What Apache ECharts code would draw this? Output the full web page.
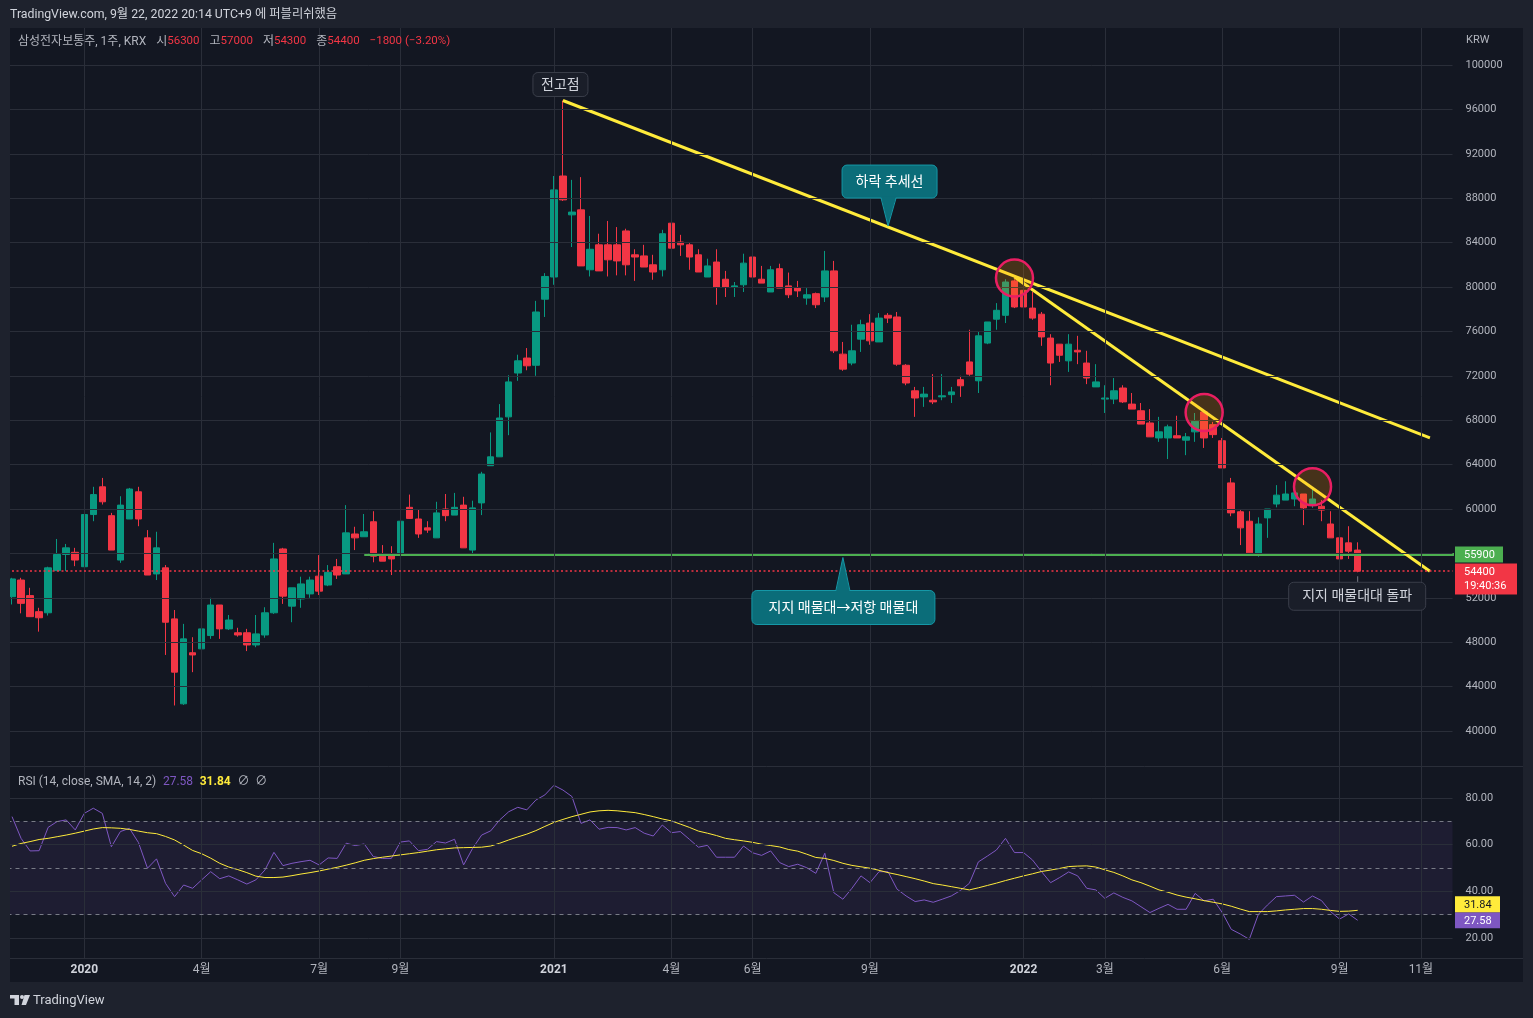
<!DOCTYPE html>
<html><head><meta charset="utf-8">
<script src="https://cdn.jsdelivr.net/npm/echarts/dist/echarts.min.js"></script>
<style>html,body{margin:0;padding:0;background:#131722;}#c{width:1533px;height:1018px;}</style>
</head><body><div id="c"></div><script>
const FONT = "Roboto, 'Noto Sans CJK KR', 'Noto Sans', sans-serif";

// ---------- data ----------
const startWeek = [2019, 10, 11];   // first weekly bar (Mon 2019-11-11)
const barCount = 160;               // bars incl. empty future space
const tickIdx    = [8, 21, 34, 43, 60, 73, 82, 95, 112, 121, 134, 147, 156];
const tickLabels = ['2020','4월','7월','9월','2021','4월','6월','9월','2022','3월','6월','9월','11월'];
const yearLabels = ['2020','2021','2022'];
const priceTicks = [40000,44000,48000,52000,56000,60000,64000,68000,72000,76000,80000,84000,88000,92000,96000,100000];
const rsiGridTicks = [20, 40, 60, 80];
const rsiDashTicks = [30, 50, 70];

const opens = [52100,53600,52200,50750,50650,54450,55900,56100,54800,59500,
62000,59400,55400,59100,61550,57400,54150,54700,50100,42450,
47050,47400,48600,51350,49200,48850,48850,47750,48650,50650,
56400,51250,51900,52350,53950,53150,54800,54150,57750,57500,
58850,55750,55950,55950,60150,59100,58300,57400,60000,59450,
60350,56300,60550,63900,64700,68300,72250,73600,72950,78900,
80900,90000,86500,86950,81550,83800,83800,83800,85050,82900,
82800,82000,81550,85750,84050,83800,82900,80900,82250,80700,
80000,80200,82700,80700,79550,81650,80100,79900,79000,79400,
79100,81450,73950,73150,75300,76750,75050,77450,77300,72950,
70650,70100,69800,70100,70300,71650,73250,71550,74950,77100,
77450,80550,79700,78100,77550,75400,74850,73350,74300,73150,
71000,69900,69900,70900,69450,68850,67750,66400,66400,66600,
66200,66950,68750,67600,66150,62350,59750,58900,55950,59200,
60450,60800,60900,61350,60350,60250,58650,57400,56950,56300];
const highs = [53800,53800,52900,51100,54800,57300,56850,56500,59650,62000,
62800,59650,61150,61900,62000,58100,57950,54950,50900,49650,
48450,50200,52000,51350,50450,49300,49200,50450,51150,56950,
56500,52900,53900,53900,55850,54950,55500,60350,58400,59550,
59800,56750,56650,60000,61300,60000,58900,60650,61350,61450,
61100,60750,63350,66900,69450,72050,73900,74500,78750,81250,
90000,96800,89650,89900,86400,84800,85950,85400,85250,83400,
83800,82900,85150,86100,84700,83950,83400,82550,83400,81450,
80450,83000,82800,81900,81900,82100,81300,80550,79900,79500,
83250,82350,75050,76600,77050,77550,77650,77650,77750,73050,
71000,71000,72150,72150,71000,72000,76150,75950,76850,78550,
80700,80700,79800,79550,77750,75750,74850,75750,75600,74250,
73050,71150,71800,71150,70450,69550,69000,68300,67600,68400,
66850,68650,68750,67850,66400,62800,59900,59800,59250,60000,
62150,62500,61900,61350,61900,60800,59800,57750,58450,57000];
const lows = [51400,50600,50300,48950,50400,54400,54400,54850,54600,58900,
60400,56300,55150,59100,58450,54050,53600,46850,42300,42350,
45300,47200,48300,48300,49100,48500,47200,47550,48400,50550,
51450,49800,51100,52000,52250,53050,53700,54150,56300,57500,
55200,55300,54050,55750,59100,57400,57850,57400,58900,59450,
56500,55950,59450,63900,64700,66650,71550,72500,72000,77300,
80200,87750,83600,81900,80950,81450,80950,81050,81050,80550,
81800,80650,80950,83350,82800,81550,81350,80900,78400,79100,
79100,79550,80650,80350,79550,79900,79000,79100,78400,78100,
78650,74050,72450,72950,74150,74800,75050,76750,72900,71150,
68300,69200,69450,69800,69550,70100,72000,70450,74850,76150,
76750,78100,76400,77050,74700,71150,73250,72350,73050,71250,
71000,68650,69450,69550,69000,67650,66500,66050,64500,66400,
64850,66050,65500,66400,63700,59350,56750,55850,55700,57400,
60150,60800,60250,58550,60100,58900,57400,55500,55500,54300];
const closes = [53700,51500,50300,50200,54700,55900,56500,55400,59500,61300,
60650,56300,60350,61800,59100,54050,56500,49800,45300,48300,
46850,49200,51350,49200,50000,48650,47750,48750,50650,55500,
52150,52900,53250,53600,52600,54300,54050,57850,57400,57950,
55750,55300,55500,58900,59150,57750,58100,59650,59400,60150,
56500,60100,63150,64700,68200,71450,73350,72900,77750,80950,
88750,87850,86750,81900,83400,81450,82450,82350,82000,82700,
81800,81350,84800,83500,83800,82700,81350,81900,80000,80000,
80100,82150,80900,80350,81550,79900,79300,79650,79300,78400,
81450,74250,72600,74250,76600,75150,77200,77200,73050,71350,
70000,70350,69650,70200,70550,71100,72150,75600,76850,77900,
80450,78200,78200,77200,75500,73150,73850,74850,74150,71800,
71450,70000,70650,69650,69000,67650,66500,66950,67400,66400,
66500,67900,66400,66700,63700,59650,58300,56050,58650,60000,
61250,61350,61450,60100,60900,59900,57400,55500,56200,54400];
const rsi = [72.0,62.7,57.3,57.4,67.4,69.9,70.6,66.3,73.4,75.6,
73.4,59.1,65.6,67.0,60.9,49.9,53.9,43.4,37.7,42.7,
41.3,44.9,48.4,45.4,46.6,44.9,43.1,44.9,49.1,56.7,
51.0,52.0,52.7,53.3,51.3,54.3,54.1,60.6,59.6,60.3,
54.9,54.1,54.1,61.1,61.6,57.4,58.0,61.3,60.7,62.3,
51.3,58.4,64.1,65.9,70.6,74.1,76.0,74.9,79.1,81.3,
85.4,83.4,80.6,69.1,70.6,66.6,67.4,67.3,66.3,67.3,
64.9,63.7,68.4,65.1,65.6,62.3,58.9,59.7,54.6,54.6,
54.6,59.4,56.5,55.4,57.3,52.3,50.6,51.6,50.1,47.7,
56.3,39.4,36.6,41.3,46.6,43.7,48.4,48.4,40.9,38.0,
35.6,36.3,35.3,36.6,38.0,40.3,43.4,52.6,55.1,57.7,
62.7,56.6,56.6,53.4,48.4,43.7,45.9,48.3,46.6,41.3,
40.6,37.0,39.3,37.4,35.9,33.4,30.9,32.7,34.4,32.3,
32.3,39.1,35.9,36.6,30.9,23.7,21.7,19.4,30.1,34.1,
37.7,38.0,38.3,35.4,38.0,36.0,31.3,28.1,30.3,27.58];
const rsiMA = [59.3,60.5,61.3,62.2,62.7,63.4,64.1,64.9,65.8,66.7,
67.3,67.2,67.0,66.5,65.8,65.1,64.7,63.5,62.0,59.8,
57.5,56.1,54.2,52.0,50.4,49.3,48.0,46.5,45.9,45.9,
46.1,46.7,47.4,48.0,48.7,49.5,50.3,51.2,52.2,53.3,
54.0,54.6,55.1,55.6,56.1,56.6,57.2,57.8,58.2,58.6,
58.7,58.8,58.9,59.4,60.6,62.0,63.3,64.5,66.0,67.8,
69.5,70.8,72.0,73.0,74.0,74.5,74.7,74.5,74.1,73.7,
72.9,72.0,71.0,70.2,68.8,67.4,65.8,64.9,63.9,62.7,
62.1,61.6,61.0,60.2,59.6,59.0,57.9,57.2,55.9,54.5,
54.1,53.2,52.0,51.1,50.5,49.9,49.0,48.0,47.2,46.3,
45.4,44.4,43.3,42.7,42.0,41.3,40.6,41.5,42.5,43.5,
44.6,45.6,46.6,47.5,48.5,49.1,49.8,50.6,50.8,50.9,
50.4,49.2,48.1,46.6,44.9,43.7,42.2,40.6,39.6,38.4,
37.5,36.8,36.0,35.3,34.6,33.6,32.4,31.3,31.3,31.3,
31.6,32.0,32.3,32.6,32.6,32.3,31.8,31.4,31.5,31.84];

// drawings (bar index, price)
const trendLine1 = [[61, 96800], [157, 66400]];
const trendLine2 = [[111, 80900], [157, 54400]];
const circles = [[111, 80800], [132, 68700], [144, 62000]];
const supportLevel = 55900;
const supportStart = 39;
const lastPrice = 54400;
const countdown = '19:40:36';
const peakPoint = [61, 96800];
const trendCalloutTip = [97, 85400];
const supportCalloutTip = [92, 55900];
const breakPoint = [149, 54300];

// ---------- build ----------
const categories = [];
const d0 = Date.UTC(startWeek[0], startWeek[1], startWeek[2]);
for (let i = 0; i < barCount; i++) categories.push(new Date(d0 + i * 7 * 86400000).toISOString().slice(0, 10));
const candles = opens.map((o, i) => [o, closes[i], lows[i], highs[i]]);

const GRIDC = '#2a2e39';
const BG = '#131722', FRAME = '#1e222d';
const TXT = '#b2b5be';
const UP = '#089981', DOWN = '#f23645';
const PANE_TOP = 103400, PANE_BOT = 36850;   // price pane extent
const RSI_TOP = 93.7, RSI_BOT = 11.4;        // rsi pane extent

const chart = echarts.init(document.getElementById('c'), null, {renderer: 'canvas', width: 1533, height: 1018});

const option = {
  backgroundColor: BG,
  animation: false,
  grid: [
    {left: 7.5, width: 1445, top: 20.6, height: 754.8, containLabel: false, outerBoundsMode: 'none'},
    {left: 7.5, width: 1445, top: 751.3, height: 210, containLabel: false, outerBoundsMode: 'none'}
  ],
  xAxis: [
    {type: 'category', gridIndex: 0, data: categories, boundaryGap: true, show: false},
    {type: 'category', gridIndex: 1, data: categories, boundaryGap: true,
      axisLine: {show: false}, axisTick: {show: false}, splitLine: {show: false},
      axisLabel: {
        interval: (i) => tickIdx.indexOf(i) >= 0,
        margin: 3,
        formatter: (v, i) => {
          const k = tickIdx.indexOf(i);
          if (k < 0) return '';
          const t = tickLabels[k];
          return yearLabels.indexOf(t) >= 0 ? '{y|' + t + '}' : '{m|' + t + '}';
        },
        rich: {
          y: {color: '#d1d4dc', fontWeight: 'bold', fontSize: 12, fontFamily: FONT},
          m: {color: TXT, fontSize: 12, fontFamily: FONT}
        }
      }}
  ],
  yAxis: [
    {type: 'value', gridIndex: 0, position: 'right', min: 36000, max: 104000, interval: 4000,
      splitLine: {show: false}, axisLine: {show: false}, axisTick: {show: false},
      axisLabel: {margin: 13, color: TXT, fontSize: 11, fontFamily: FONT,
        formatter: v => priceTicks.indexOf(Math.round(v)) >= 0 ? String(Math.round(v)) : ''}},
    {type: 'value', gridIndex: 1, position: 'right', min: 10, max: 100, interval: 10,
      splitLine: {show: false}, axisLine: {show: false}, axisTick: {show: false},
      axisLabel: {margin: 13, color: TXT, fontSize: 11, fontFamily: FONT,
        formatter: v => rsiGridTicks.indexOf(Math.round(v)) >= 0 ? Math.round(v).toFixed(2) : ''}}
  ],
  series: [
    // price pane grid
    {type: 'line', xAxisIndex: 0, yAxisIndex: 0, data: [], z: 1, silent: true,
      markLine: {silent: true, symbol: ['none', 'none'], animation: false, label: {show: false},
        lineStyle: {color: GRIDC, width: 1, type: 'solid'},
        data: [
          ...priceTicks.map(v => ({yAxis: v})),
          ...tickIdx.map(i => [{coord: [i, PANE_TOP]}, {coord: [i, PANE_BOT]}])
        ]}},
    // rsi pane grid
    {type: 'line', xAxisIndex: 1, yAxisIndex: 1, data: [], z: 1, silent: true,
      markArea: {silent: true, itemStyle: {color: 'rgba(126,87,194,0.10)'}, data: [[{yAxis: 30}, {yAxis: 70}]]},
      markLine: {silent: true, symbol: ['none', 'none'], animation: false, label: {show: false},
        lineStyle: {color: GRIDC, width: 1, type: 'solid'},
        data: [
          ...rsiGridTicks.map(v => ({yAxis: v})),
          ...tickIdx.map(i => [{coord: [i, RSI_TOP]}, {coord: [i, RSI_BOT]}])
        ]}},
    {type: 'line', xAxisIndex: 1, yAxisIndex: 1, data: [], z: 1, silent: true,
      markLine: {silent: true, symbol: ['none', 'none'], animation: false, label: {show: false},
        lineStyle: {color: '#787b86', width: 1, type: [4, 4]},
        data: rsiDashTicks.map(v => ({yAxis: v}))}},
    // candles
    {type: 'candlestick', xAxisIndex: 0, yAxisIndex: 0, data: candles, barWidth: 7, z: 2,
      itemStyle: {color: UP, color0: DOWN, borderColor: UP, borderColor0: DOWN, borderWidth: 1}},
    // last price dotted line
    {type: 'line', xAxisIndex: 0, yAxisIndex: 0, data: [], z: 3, silent: true,
      markLine: {silent: true, symbol: ['none', 'none'], animation: false, label: {show: false},
        lineStyle: {color: DOWN, width: 1.6, type: [2, 2.5], opacity: 1},
        data: [{yAxis: lastPrice}]}},
    // support line
    {type: 'line', xAxisIndex: 0, yAxisIndex: 0, data: [[supportStart, supportLevel], [barCount, supportLevel]],
      symbol: 'none', z: 4, clip: true, lineStyle: {color: '#4caf50', width: 3}},
    // trend lines
    {type: 'line', xAxisIndex: 0, yAxisIndex: 0, data: trendLine1, symbol: 'none', z: 4,
      lineStyle: {color: '#ffeb3b', width: 3}},
    {type: 'line', xAxisIndex: 0, yAxisIndex: 0, data: trendLine2, symbol: 'none', z: 4,
      lineStyle: {color: '#ffeb3b', width: 3}},
    // circles
    {type: 'scatter', xAxisIndex: 0, yAxisIndex: 0, data: circles, symbol: 'circle', symbolSize: 37, z: 5,
      itemStyle: {color: 'rgba(255,152,0,0.22)', borderColor: '#e91e63', borderWidth: 2.5, opacity: 1}},
    // RSI
    {type: 'line', xAxisIndex: 1, yAxisIndex: 1, data: rsi, symbol: 'none', z: 3,
      lineStyle: {color: '#7e57c2', width: 1}},
    {type: 'line', xAxisIndex: 1, yAxisIndex: 1, data: rsiMA, symbol: 'none', z: 4,
      lineStyle: {color: '#ffeb3b', width: 1}}
  ]
};
chart.setOption(option);

// ---------- overlays positioned through the chart's own scales ----------
const P0 = p => chart.convertToPixel({gridIndex: 0}, p);
const P1 = p => chart.convertToPixel({gridIndex: 1}, p);
const f = (px, w) => (w || '') + ' ' + px + 'px ' + FONT;
const CALL_FILL = '#0b6d79', CALL_STROKE = '#1598a7';
function txt(text, x, y, fill, font, align, valign, z) {
  return {type: 'text', z: z || 70, style: {text, x, y, fill, font, align: align || 'left', verticalAlign: valign || 'middle',
    textAlign: align || 'left', textVerticalAlign: valign || 'middle'}};
}
function callout(x0, y0, x1, y1, bx0, bx1, tx, ty, down, text) {
  const by = down ? y1 : y0;
  const inner = down ? by - 1.5 : by + 1.5;
  return [
    {type: 'rect', z: 60, shape: {x: x0, y: y0, width: x1 - x0, height: y1 - y0, r: 5}, style: {fill: CALL_FILL, stroke: CALL_STROKE, lineWidth: 1}},
    {type: 'polygon', z: 61, shape: {points: [[bx0, inner], [tx, ty], [bx1, inner]]}, style: {fill: CALL_FILL}},
    {type: 'polyline', z: 61, shape: {points: [[bx0, by], [tx, ty], [bx1, by]]}, style: {stroke: CALL_STROKE, lineWidth: 1, fill: null}},
    txt(text, (x0 + x1) / 2, (y0 + y1) / 2 + 0.5, '#ffffff', f(14), 'center', 'middle', 62)
  ];
}
function noteBox(x0, y0, x1, y1, text) {
  return [
    {type: 'rect', z: 60, shape: {x: x0, y: y0, width: x1 - x0, height: y1 - y0, r: 5}, style: {fill: '#1a1e29', stroke: '#3a3e4a', lineWidth: 1}},
    txt(text, (x0 + x1) / 2, (y0 + y1) / 2 + 0.5, '#d1d4dc', f(14), 'center', 'middle', 62)
  ];
}

const G = [];
// frame
G.push({type: 'rect', z: 50, shape: {x: 0, y: 0, width: 1533, height: 28}, style: {fill: FRAME}});
G.push({type: 'rect', z: 50, shape: {x: 0, y: 0, width: 10, height: 1018}, style: {fill: FRAME}});
G.push({type: 'rect', z: 50, shape: {x: 1523, y: 0, width: 10, height: 1018}, style: {fill: FRAME}});
G.push({type: 'rect', z: 50, shape: {x: 0, y: 982, width: 1533, height: 36}, style: {fill: FRAME}});
G.push({type: 'line', z: 50, shape: {x1: 10, y1: 766.5, x2: 1523, y2: 766.5}, style: {stroke: '#2a2e39', lineWidth: 1}});
G.push({type: 'line', z: 50, shape: {x1: 10, y1: 958.5, x2: 1523, y2: 958.5}, style: {stroke: '#2a2e39', lineWidth: 1}});

// header
G.push(txt('TradingView.com, 9월 22, 2022 20:14 UTC+9 에 퍼블리쉬했음', 10, 14.5, '#d1d4dc', f(12.3), 'left', 'middle', 71));
const last = opens.length - 1;
const chg = closes[last] - closes[last - 1];
const pct = (chg / closes[last - 1] * 100).toFixed(2);
const neg = s => String(s).replace('-', '−');
G.push({type: 'text', z: 71, style: {
  x: 18, y: 41.5, align: 'left', verticalAlign: 'middle', textAlign: 'left', textVerticalAlign: 'middle',
  text: '{g|삼성전자보통주, 1주, KRX}   {g|시}{r|' + opens[last] + '}   {g|고}{r|' + highs[last] + '}   {g|저}{r|' + lows[last] +
        '}   {g|종}{r|' + closes[last] + '}   {r|' + neg(chg) + ' (' + neg(pct) + '%)}',
  rich: {g: {fill: TXT, font: f(12)}, r: {fill: DOWN, font: f(11.5)}}
}});
G.push(txt('KRW', 1466, 40.5, TXT, f(11), 'left', 'middle', 71));
// RSI legend
G.push({type: 'text', z: 71, style: {
  x: 18, y: 781.5, align: 'left', verticalAlign: 'middle', textAlign: 'left', textVerticalAlign: 'middle',
  text: '{g|RSI (14, close, SMA, 14, 2)}  {p|' + rsi[last].toFixed(2) + '}  {y|' + rsiMA[last].toFixed(2) + '}  {g|∅  ∅}',
  rich: {g: {fill: TXT, font: f(12)}, p: {fill: '#7e57c2', font: f(12)}, y: {fill: '#ffeb3b', font: f(12, 'bold')}}
}});
// bottom logo
G.push({type: 'rect', z: 71, shape: {x: 10, y: 995, width: 9, height: 3.5}, style: {fill: '#d1d4dc'}});
G.push({type: 'rect', z: 71, shape: {x: 14.5, y: 995, width: 4.5, height: 10}, style: {fill: '#d1d4dc'}});
G.push({type: 'circle', z: 71, shape: {cx: 22, cy: 997, r: 2}, style: {fill: '#d1d4dc'}});
G.push({type: 'polygon', z: 71, shape: {points: [[24.5, 995], [30, 995], [26, 1005], [21.5, 1005]]}, style: {fill: '#d1d4dc'}});
G.push(txt('TradingView', 33, 1000.5, '#d1d4dc', f(13), 'left', 'middle', 71));

// annotations
const pk = P0(peakPoint);
G.push(...noteBox(pk[0] - 30, pk[1] - 28, pk[0] + 25, pk[1] - 4, '전고점'));
const t1 = P0(trendCalloutTip);
G.push(...callout(t1[0] - 46, t1[1] - 62, t1[0] + 49, t1[1] - 29, t1[0] - 7, t1[0] + 8, t1[0], t1[1] - 1, true, '하락 추세선'));
const t2 = P0(supportCalloutTip);
G.push(...callout(t2[0] - 91, t2[1] + 36, t2[0] + 92, t2[1] + 70, t2[0] - 7, t2[0] + 7, t2[0], t2[1] + 3, false, '지지 매물대→저항 매물대'));
const bp = P0(breakPoint);
G.push({type: 'line', z: 60, shape: {x1: bp[0], y1: bp[1] + 4, x2: bp[0], y2: bp[1] + 10}, style: {stroke: '#787b86', lineWidth: 1}});
G.push(...noteBox(bp[0] - 69, bp[1] + 10, bp[0] + 68, bp[1] + 38, '지지 매물대대 돌파'));

// price scale badges
const gy = P0([0, supportLevel])[1];
G.push({type: 'rect', z: 80, shape: {x: 1455, y: gy - 8, width: 48, height: 16}, style: {fill: '#4caf50'}});
G.push(txt(String(supportLevel), 1464, gy + 0.5, '#ffffff', f(11), 'left', 'middle', 81));
const ry = P0([0, lastPrice])[1];
const ryTop = Math.max(ry - 8, gy + 9);
G.push({type: 'rect', z: 80, shape: {x: 1455, y: ryTop, width: 62, height: 31}, style: {fill: DOWN}});
G.push(txt(String(lastPrice), 1464, ryTop + 8.5, '#ffffff', f(11), 'left', 'middle', 81));
G.push(txt(countdown, 1464, ryTop + 22.5, '#ffffff', f(11), 'left', 'middle', 81));
const py = P1([0, rsi[last]])[1];
G.push({type: 'rect', z: 80, shape: {x: 1455, y: py - 8, width: 45, height: 16}, style: {fill: '#7e57c2'}});
G.push(txt(rsi[last].toFixed(2), 1464, py + 0.5, '#ffffff', f(11), 'left', 'middle', 81));
const yy = Math.min(P1([0, rsiMA[last]])[1], py - 16);
G.push({type: 'rect', z: 80, shape: {x: 1455, y: yy - 8, width: 45, height: 16}, style: {fill: '#ffeb3b'}});
G.push(txt(rsiMA[last].toFixed(2), 1464, yy + 0.5, '#131722', f(11), 'left', 'middle', 81));

chart.setOption({graphic: G});
</script></body></html>
